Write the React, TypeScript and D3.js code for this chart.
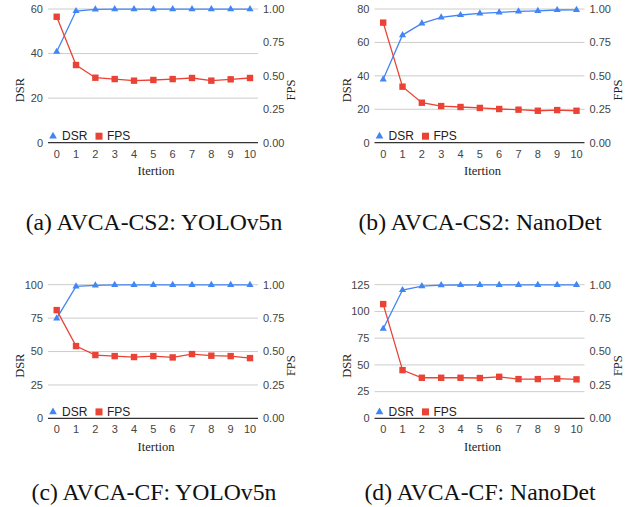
import React from "react";
import * as d3 from "d3";

const iterations = [0, 1, 2, 3, 4, 5, 6, 7, 8, 9, 10];

const dsrA = [40.8, 59.1, 59.8, 59.9, 59.9, 59.9, 59.9, 59.9, 59.9, 59.9, 59.9];
const fpsA = [0.942, 0.581, 0.486, 0.476, 0.464, 0.469, 0.476, 0.484, 0.464, 0.474, 0.484];
const dsrB = [37.9, 64.4, 71.4, 75.0, 76.4, 77.4, 78.0, 78.6, 78.9, 79.4, 79.5];
const fpsB = [0.898, 0.419, 0.299, 0.274, 0.267, 0.26, 0.252, 0.247, 0.239, 0.244, 0.239];
const dsrC = [74.8, 98.7, 99.5, 99.8, 99.8, 99.8, 99.8, 99.8, 99.8, 99.8, 99.8];
const fpsC = [0.81, 0.541, 0.474, 0.466, 0.459, 0.466, 0.456, 0.481, 0.469, 0.466, 0.451];
const dsrD = [83.8, 120.0, 123.7, 124.6, 124.7, 124.8, 124.8, 124.8, 124.8, 124.8, 124.8];
const fpsD = [0.855, 0.361, 0.304, 0.304, 0.304, 0.302, 0.311, 0.294, 0.294, 0.297, 0.292];

const dsrTicksA = [0, 20, 40, 60];
const dsrTicksB = [0, 20, 40, 60, 80];
const dsrTicksC = [0, 25, 50, 75, 100];
const dsrTicksD = [0, 25, 50, 75, 100, 125];
const fpsTicks = [0, 0.25, 0.5, 0.75, 1.0];

const captions = [
  "(a) AVCA-CS2: YOLOv5n",
  "(b) AVCA-CS2: NanoDet",
  "(c) AVCA-CF: YOLOv5n",
  "(d) AVCA-CF: NanoDet",
];

const BLUE = "#4285F4";
const RED = "#EA4335";
const SANS = "'Liberation Sans', Arial, sans-serif";
const SERIF = "'Liberation Serif', 'Times New Roman', serif";

type PanelProps = {
  ox: number;
  oy: number;
  dsr: number[];
  fps: number[];
  dsrTicks: number[];
};

function Panel({ ox, oy, dsr, fps, dsrTicks }: PanelProps) {
  const plotLeft = 48;
  const plotRight = 258;
  const top = 9;
  const bottom = 142.7;
  const x = d3.scaleLinear().domain([0, 10]).range([56.7, 250]);
  const yL = d3
    .scaleLinear()
    .domain([0, dsrTicks[dsrTicks.length - 1]])
    .range([bottom, top]);
  const yR = d3.scaleLinear().domain([0, 1]).range([bottom, top]);
  const lineL = d3
    .line<number>()
    .x((_, i) => x(iterations[i]))
    .y((d) => yL(d));
  const lineR = d3
    .line<number>()
    .x((_, i) => x(iterations[i]))
    .y((d) => yR(d));
  const fmt = d3.format(".2f");
  const tri = d3.symbol().type(d3.symbolTriangle).size(22)();
  const triLeg = d3.symbol().type(d3.symbolTriangle).size(26)();

  return (
    <g transform={`translate(${ox},${oy})`}>
      {dsrTicks.map((t) =>
        t === 0 ? null : (
          <line
            key={"g" + t}
            x1={plotLeft}
            x2={plotRight}
            y1={yL(t)}
            y2={yL(t)}
            stroke="#cccccc"
            strokeWidth={1}
          />
        )
      )}
      <line
        x1={plotLeft}
        x2={plotRight}
        y1={bottom}
        y2={bottom}
        stroke="#333333"
        strokeWidth={1.2}
      />
      {dsrTicks.map((t) => (
        <text
          key={"l" + t}
          x={plotLeft - 5}
          y={yL(t)}
          dy="0.35em"
          textAnchor="end"
          fontFamily={SANS}
          fontSize={11}
          fill="#444"
        >
          {t}
        </text>
      ))}
      {fpsTicks.map((t) => (
        <text
          key={"r" + t}
          x={plotRight + 5}
          y={yR(t)}
          dy="0.35em"
          textAnchor="start"
          fontFamily={SANS}
          fontSize={11}
          fill="#444"
        >
          {fmt(t)}
        </text>
      ))}
      {iterations.map((it) => (
        <text
          key={"x" + it}
          x={x(it)}
          y={bottom + 15}
          textAnchor="middle"
          fontFamily={SANS}
          fontSize={11}
          fill="#444"
        >
          {it}
        </text>
      ))}
      <text
        transform={`translate(${24},${90}) rotate(-90)`}
        textAnchor="middle"
        fontFamily={SERIF}
        fontSize={12.5}
        fill="#222"
      >
        DSR
      </text>
      <text
        transform={`translate(${295},${90}) rotate(-90)`}
        textAnchor="middle"
        fontFamily={SERIF}
        fontSize={12.5}
        fill="#222"
      >
        FPS
      </text>
      <text
        x={156}
        y={175}
        textAnchor="middle"
        fontFamily={SERIF}
        fontSize={12.5}
        fill="#222"
      >
        Itertion
      </text>

      <path d={lineL(dsr) || ""} fill="none" stroke={BLUE} strokeWidth={1.3} />
      {dsr.map((v, i) => (
        <path
          key={"t" + i}
          d={tri || ""}
          transform={`translate(${x(iterations[i])},${yL(v)})`}
          fill={BLUE}
        />
      ))}
      <path d={lineR(fps) || ""} fill="none" stroke={RED} strokeWidth={1.3} />
      {fps.map((v, i) => (
        <rect
          key={"s" + i}
          x={x(iterations[i]) - 3.2}
          y={yR(v) - 3.2}
          width={6.4}
          height={6.4}
          fill={RED}
        />
      ))}

      <path d={triLeg || ""} transform={`translate(53,${bottom - 6.5})`} fill={BLUE} />
      <text
        x={62}
        y={bottom - 6.5}
        dy="0.35em"
        fontFamily={SANS}
        fontSize={12}
        fill="#222"
      >
        DSR
      </text>
      <rect x={95.5} y={bottom - 10} width={7} height={7} fill={RED} />
      <text
        x={107}
        y={bottom - 6.5}
        dy="0.35em"
        fontFamily={SANS}
        fontSize={12}
        fill="#222"
      >
        FPS
      </text>
    </g>
  );
}

export default function App() {
  const panels = [
    { ox: 0, oy: 0, dsr: dsrA, fps: fpsA, ticks: dsrTicksA },
    { ox: 326.5, oy: 0, dsr: dsrB, fps: fpsB, ticks: dsrTicksB },
    { ox: 0, oy: 275.7, dsr: dsrC, fps: fpsC, ticks: dsrTicksC },
    { ox: 326.5, oy: 275.7, dsr: dsrD, fps: fpsD, ticks: dsrTicksD },
  ];
  const capPos = [
    { x: 154, y: 230 },
    { x: 480, y: 230 },
    { x: 154, y: 500 },
    { x: 480, y: 500 },
  ];
  return (
    <svg
      width={629}
      height={507}
      style={{ position: "absolute", left: 0, top: 0, background: "#fff" }}
    >
      <rect width={629} height={507} fill="#fff" />
      {panels.map((p, i) => (
        <Panel key={i} ox={p.ox} oy={p.oy} dsr={p.dsr} fps={p.fps} dsrTicks={p.ticks} />
      ))}
      {captions.map((c, i) => (
        <text
          key={c}
          x={capPos[i].x}
          y={capPos[i].y}
          textAnchor="middle"
          fontFamily={SERIF}
          fontSize={23.7}
          fill="#111"
        >
          {c}
        </text>
      ))}
    </svg>
  );
}
